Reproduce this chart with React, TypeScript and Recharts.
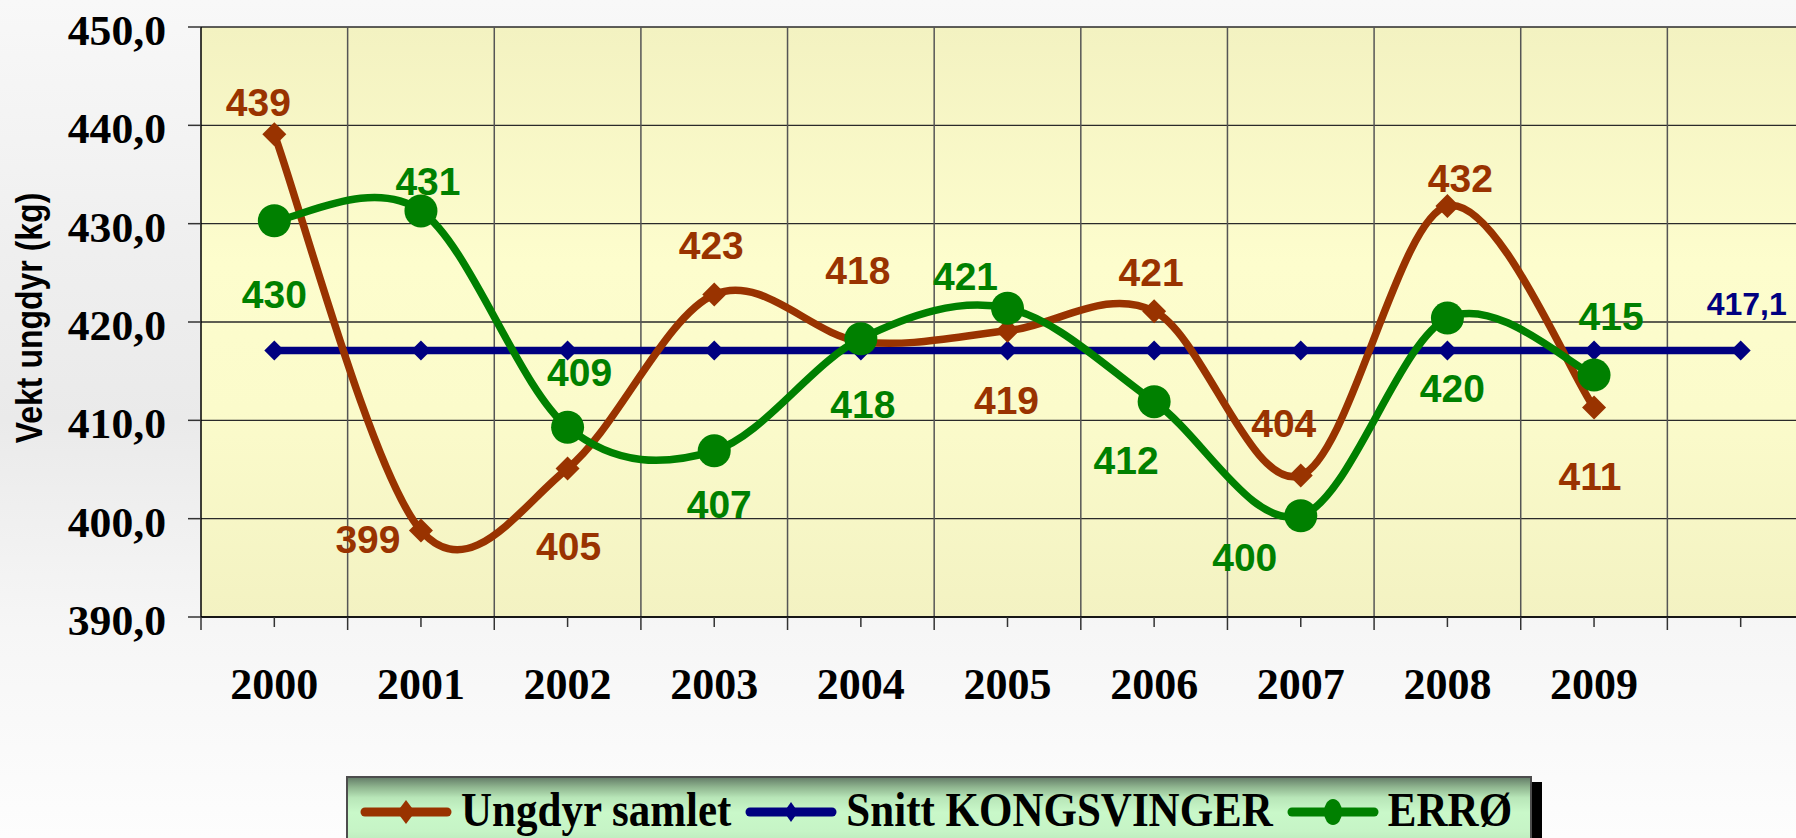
import React from 'react';
import { LineChart, Line, XAxis, YAxis, CartesianGrid, ReferenceLine, LabelList, Legend } from 'recharts';

// ---------- data ----------
const years = ['2000', '2001', '2002', '2003', '2004', '2005', '2006', '2007', '2008', '2009', ''];
const ungdyrValues = [439.1, 398.8, 405.1, 422.8, 418.0, 419.1, 421.1, 404.4, 431.8, 411.3, null];
const snittValues = [417.1, 417.1, 417.1, 417.1, 417.1, 417.1, 417.1, 417.1, 417.1, 417.1, 417.1];
const erroValues = [430.3, 431.3, 409.3, 406.9, 418.3, 421.4, 411.9, 400.3, 420.4, 414.6, null];
const yTicks = [390, 400, 410, 420, 430, 440, 450];
const seriesNames = ['Ungdyr samlet', 'Snitt KONGSVINGER', 'ERRØ'];

// ---------- label placement (offsets from the point, px) ----------
const ungdyrLabelOffsets = [[-16, -32], [-53, 8], [1, 77], [-3, -50], [-3, -72], [-1, 69], [-3, -39], [-17, -52], [13, -28], [-4, 68], null];
const erroLabelOffsets = [[0, 73], [7, -30], [12, -55], [5, 53], [2, 65], [-42, -32], [-28, 58], [-56, 41], [5, 70], [17, -59], null];
const snittLabelOffsets = [null, null, null, null, null, null, null, null, null, null, [6, -47]];

const COLORS = { ungdyr: '#993300', snitt: '#000080', erro: '#008000' };

const data = years.map((year, i) => ({
  idx: i,
  year,
  ungdyr: ungdyrValues[i],
  snitt: snittValues[i],
  erro: erroValues[i],
}));

const xTicks: number[] = [];
for (let k = -1; k <= years.length * 2 - 1; k++) xTicks.push(k / 2);
const bandEdges = xTicks.filter((t) => !Number.isInteger(t) && t > 0 && t < years.length - 0.5);

// Excel-like smoothed line (Catmull-Rom style bezier)
const excelSmooth = (context: any) => {
  let pts: number[][] = [];
  return {
    areaStart() {},
    areaEnd() {},
    lineStart() {
      pts = [];
    },
    lineEnd() {
      const n = pts.length;
      if (!n) return;
      context.moveTo(pts[0][0], pts[0][1]);
      for (let i = 0; i < n - 1; i++) {
        const p0 = pts[i > 0 ? i - 1 : i];
        const p1 = pts[i];
        const p2 = pts[i + 1];
        const p3 = pts[i + 2 < n ? i + 2 : i + 1];
        context.bezierCurveTo(
          p1[0] + (p2[0] - p0[0]) / 6,
          p1[1] + (p2[1] - p0[1]) / 6,
          p2[0] - (p3[0] - p1[0]) / 6,
          p2[1] - (p3[1] - p1[1]) / 6,
          p2[0],
          p2[1]
        );
      }
    },
    point(x: number, y: number) {
      pts.push([+x, +y]);
    },
  };
};

const LABEL_FONT = "'Liberation Sans', Arial, sans-serif";
const SERIF_FONT = "'Liberation Serif', 'Times New Roman', serif";

const diamondDot = (size: number, color: string) => (props: any) => {
  const { cx, cy, index } = props;
  if (cx == null || cy == null || isNaN(cy)) return <g key={`d-${index}`} />;
  return (
    <polygon
      key={`d-${index}`}
      points={`${cx},${cy - size} ${cx + size},${cy} ${cx},${cy + size} ${cx - size},${cy}`}
      fill={color}
    />
  );
};

const circleDot = (r: number, color: string) => (props: any) => {
  const { cx, cy, index } = props;
  if (cx == null || cy == null || isNaN(cy)) return <g key={`c-${index}`} />;
  return <circle key={`c-${index}`} cx={cx} cy={cy} r={r} fill={color} />;
};

const makeLabel = (offsets: any[], color: string, fmt: (v: number) => string, size: number) => (props: any) => {
  const { value, index } = props;
  const vb = props.viewBox || {};
  const x = props.x != null ? props.x : vb.x;
  const y = props.y != null ? props.y : vb.y;
  const off = offsets[index];
  if (value == null || !off || x == null || y == null) return null;
  return (
    <text
      x={x + off[0]}
      y={y + off[1]}
      dy={size * 0.36}
      textAnchor="middle"
      fill={color}
      style={{ fontFamily: LABEL_FONT, fontWeight: 700, fontSize: size }}
    >
      {fmt(value)}
    </text>
  );
};

const fmtInt = (v: number) => String(Math.round(v));
const fmtDec = (v: number) => v.toFixed(1).replace('.', ',');

const YTick = (props: any) => {
  const { x, y, payload } = props;
  return (
    <g transform={`translate(${x},${y})`}>
      <text
        x={0}
        y={18}
        textAnchor="end"
        transform="scale(1.04,1)"
        fill="#000"
        style={{ fontFamily: SERIF_FONT, fontWeight: 700, fontSize: 42 }}
      >
        {fmtDec(payload.value)}
      </text>
    </g>
  );
};

const XTick = (props: any) => {
  const { x, y, payload } = props;
  const v = payload.value;
  const isCenter = Number.isInteger(v);
  return (
    <g>
      <line x1={x} x2={x} y1={y} y2={y + (isCenter ? 10 : 13)} stroke="#333" strokeWidth={1.5} />
      {isCenter && years[v] ? (
        <text
          x={x}
          y={y + 82}
          textAnchor="middle"
          fill="#000"
          style={{ fontFamily: SERIF_FONT, fontWeight: 700, fontSize: 44 }}
        >
          {years[v]}
        </text>
      ) : null}
    </g>
  );
};

const YLabel = (props: any) => {
  const vb = props.viewBox || { y: 27, height: 590 };
  const cy = vb.y + vb.height / 2 - 4;
  const cx = 42;
  return (
    <text
      x={0}
      y={0}
      textAnchor="middle"
      transform={`translate(${cx},${cy}) rotate(-90) scale(1,1.15)`}
      fill="#000"
      style={{ fontFamily: LABEL_FONT, fontWeight: 700, fontSize: 32 }}
    >
      Vekt ungdyr (kg)
    </text>
  );
};

const LegendIcon = ({ kind, color }: { kind: string; color: string }) => (
  <svg width={92} height={40} style={{ display: 'block', flex: '0 0 auto', marginTop: 14 }}>
    <line x1={5} x2={87} y1={20} y2={20} stroke={color} strokeWidth={9} strokeLinecap="round" />
    {kind === 'diamondBig' && <polygon points="46,8 55,20 46,32 37,20" fill={color} />}
    {kind === 'diamondSmall' && <polygon points="46,10 53,20 46,30 39,20" fill={color} />}
    {kind === 'circle' && <ellipse cx={46} cy={20} rx={9} ry={13} fill={color} />}
  </svg>
);

const LegendBox = () => {
  const items = [
    { name: seriesNames[0], color: COLORS.ungdyr, kind: 'diamondBig' },
    { name: seriesNames[1], color: COLORS.snitt, kind: 'diamondSmall' },
    { name: seriesNames[2], color: COLORS.erro, kind: 'circle' },
  ];
  return (
    <div
      style={{
        position: 'relative',
        width: 1186,
        height: 80,
        boxSizing: 'border-box',
        border: '2px solid #4d4d4d',
        background:
          'linear-gradient(to bottom, #66806a 0%, #8fb58f 12%, #b8e6b8 26%, #c9f8c9 45%, #c6f4c6 70%, #b3e0b3 100%)',
        boxShadow: '10px 6px 0 #000',
        display: 'flex',
        alignItems: 'flex-start',
        paddingLeft: 12,
      }}
    >
      {items.map((it, i) => (
        <div key={it.name} style={{ display: 'flex', alignItems: 'flex-start', marginLeft: i === 0 ? 0 : 14 }}>
          <LegendIcon kind={it.kind} color={it.color} />
          <span
            style={{
              display: 'block',
              marginLeft: 9,
              marginTop: 12,
              fontFamily: SERIF_FONT,
              fontWeight: 700,
              fontSize: 43,
              lineHeight: '43px',
              color: '#000',
              whiteSpace: 'nowrap',
              transform: 'scaleY(1.15)',
              transformOrigin: '50% 36px',
            }}
          >
            {it.name}
          </span>
        </div>
      ))}
    </div>
  );
};

export default function App() {
  return (
    <div
      style={{
        position: 'fixed',
        left: 0,
        top: 0,
        width: 1796,
        height: 838,
        overflow: 'hidden',
        background: 'linear-gradient(to bottom, #f8f8f8 0%, #efefef 30%, #eaeaea 50%, #f6f6f6 75%, #fdfdfd 100%)',
      }}
    >
      <LineChart width={1830} height={838} data={data} margin={{ top: 27, right: 16, left: 0, bottom: 0 }}>
        <defs>
          <linearGradient id="plotBg" x1="0" y1="0" x2="0" y2="1">
            <stop offset="0%" stopColor="#f3f2c1" />
            <stop offset="40%" stopColor="#fdfdcd" />
            <stop offset="65%" stopColor="#fbfbcb" />
            <stop offset="100%" stopColor="#f3f2c2" />
          </linearGradient>
        </defs>
        <CartesianGrid vertical={false} stroke="#2a2a2a" strokeWidth={1.4} fill="url(#plotBg)" fillOpacity={1} />
        {bandEdges.map((e) => (
          <ReferenceLine key={e} x={e} stroke="#555" strokeWidth={1.5} />
        ))}
        <XAxis
          dataKey="idx"
          type="number"
          domain={[-0.5, years.length - 0.5]}
          ticks={xTicks}
          interval={0}
          tickSize={0}
          tickMargin={0}
          tickLine={false}
          tick={<XTick />}
          axisLine={{ stroke: '#000', strokeWidth: 1.5 }}
          height={221}
          allowDataOverflow
        />
        <YAxis
          type="number"
          domain={[390, 450]}
          ticks={yTicks}
          interval={0}
          width={201}
          tickSize={13}
          tickMargin={22}
          tick={<YTick />}
          tickLine={{ stroke: '#333', strokeWidth: 1.5 }}
          axisLine={{ stroke: '#000', strokeWidth: 1.5 }}
          label={{ content: <YLabel /> }}
        />
        <Line
          dataKey="snitt"
          name={seriesNames[1]}
          stroke={COLORS.snitt}
          strokeWidth={7.5}
          type={excelSmooth as any}
          dot={diamondDot(10, COLORS.snitt)}
          activeDot={false}
          isAnimationActive={false}
        >
          <LabelList dataKey="snitt" content={makeLabel(snittLabelOffsets, COLORS.snitt, fmtDec, 32)} />
        </Line>
        <Line
          dataKey="ungdyr"
          name={seriesNames[0]}
          stroke={COLORS.ungdyr}
          strokeWidth={7.5}
          type={excelSmooth as any}
          dot={diamondDot(12, COLORS.ungdyr)}
          activeDot={false}
          isAnimationActive={false}
        >
          <LabelList dataKey="ungdyr" content={makeLabel(ungdyrLabelOffsets, COLORS.ungdyr, fmtInt, 39)} />
        </Line>
        <Line
          dataKey="erro"
          name={seriesNames[2]}
          stroke={COLORS.erro}
          strokeWidth={7.5}
          type={excelSmooth as any}
          dot={circleDot(16.5, COLORS.erro)}
          activeDot={false}
          isAnimationActive={false}
        >
          <LabelList dataKey="erro" content={makeLabel(erroLabelOffsets, COLORS.erro, fmtInt, 39)} />
        </Line>
        <Legend
          layout="horizontal"
          verticalAlign="middle"
          align="center"
          wrapperStyle={{ left: 346, top: 776, width: 1200, height: 62, overflow: 'visible' }}
          content={() => <LegendBox />}
        />
      </LineChart>
    </div>
  );
}
